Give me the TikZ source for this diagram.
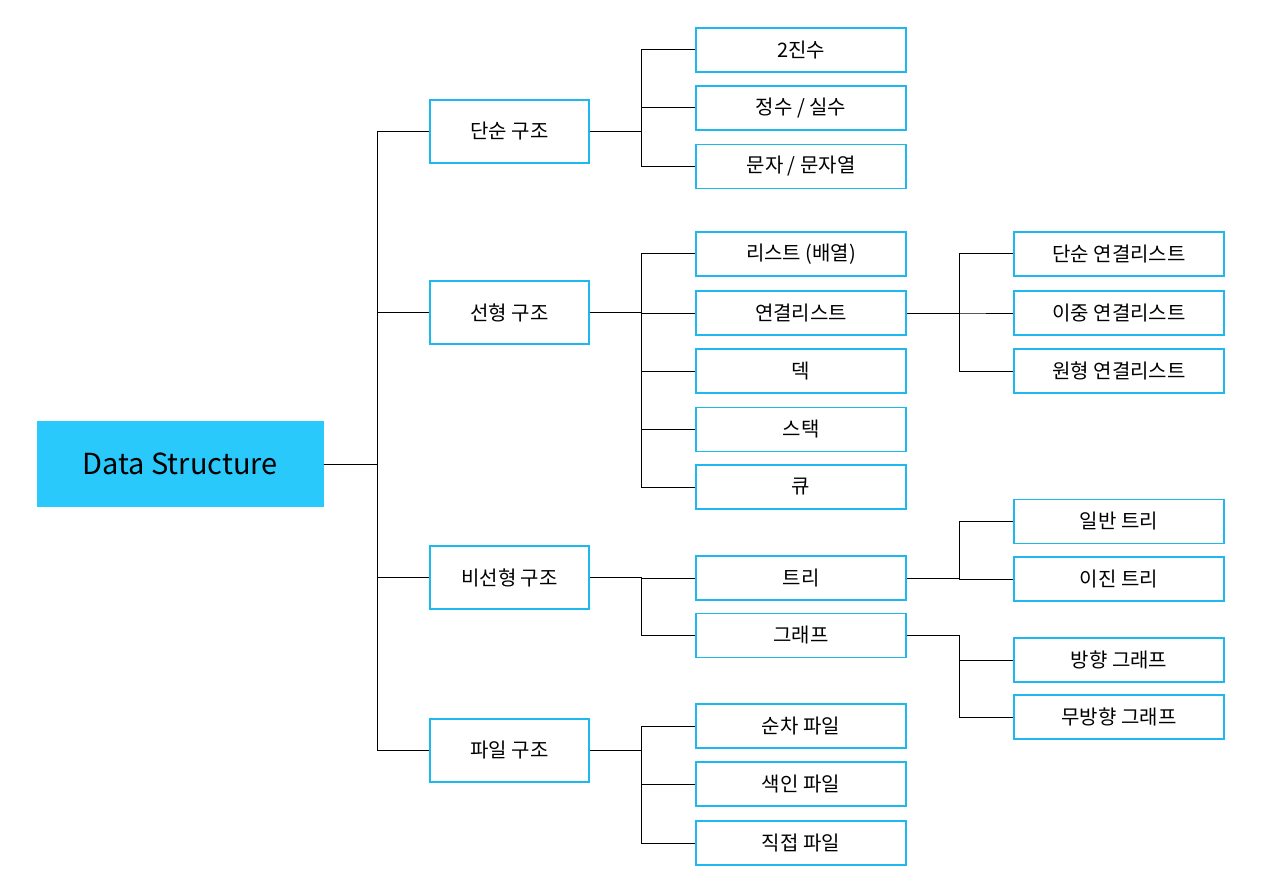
\documentclass[tikz,border=0pt]{standalone}
\usepackage{fontspec}
\setmainfont{Noto Sans CJK KR}
\definecolor{rootfill}{HTML}{29C9FB}
\definecolor{boxline}{HTML}{1DB9EE}
\begin{document}
\begin{tikzpicture}[x=1pt,y=-1pt,
  l1box/.style={draw=boxline,line width=1.8pt,minimum width=159pt,minimum height=63pt,inner sep=0pt,font=\fontsize{20}{24}\selectfont},
  l2box/.style={draw=boxline,line width=1.8pt,minimum width=210pt,minimum height=44pt,inner sep=0pt,font=\fontsize{20}{24}\selectfont},
  link/.style={draw=black,line width=1pt}]
\useasboundingbox (0,0) rectangle (1280,896);
\node[fill=rootfill,minimum width=287pt,minimum height=86pt,inner sep=0pt,font=\fontsize{29}{34}\selectfont] (root) at (180,464) {Data Structure};

\node[l1box] (s1) at (509.5,131.5) {단순 구조};
\node[l1box] (s2) at (509.5,312.5) {선형 구조};
\node[l1box] (s3) at (509.5,577.5) {비선형 구조};
\node[l1box] (s4) at (509.5,750.5) {파일 구조};

\node[l2box] (a1) at (801,50) {2진수};
\node[l2box] (a2) at (801,108) {정수 / 실수};
\node[l2box] (a3) at (801,166.5) {문자 / 문자열};
\node[l2box] (b1) at (801,254) {리스트 (배열)};
\node[l2box] (b2) at (801,313) {연결리스트};
\node[l2box] (b3) at (801,371) {덱};
\node[l2box] (b4) at (801,429.5) {스택};
\node[l2box] (b5) at (801,487) {큐};
\node[l2box] (c1) at (801,578) {트리};
\node[l2box] (c2) at (801,635.5) {그래프};
\node[l2box] (d1) at (801,726) {순차 파일};
\node[l2box] (d2) at (801,784) {색인 파일};
\node[l2box] (d3) at (801,843) {직접 파일};

\node[l2box] (e1) at (1119,254) {단순 연결리스트};
\node[l2box] (e2) at (1119,313) {이중 연결리스트};
\node[l2box] (e3) at (1119,371) {원형 연결리스트};
\node[l2box] (f1) at (1119,521.5) {일반 트리};
\node[l2box] (f2) at (1119,579) {이진 트리};
\node[l2box] (g1) at (1119,660) {방향 그래프};
\node[l2box] (g2) at (1119,717) {무방향 그래프};

\foreach \t in {s1,s2,s3,s4}
  \draw[link] (root.east) -- ++(54,0) |- (\t.west);
\foreach \t in {a1,a2,a3}
  \draw[link] (s1.east) -- ++(52,0) |- (\t.west);
\foreach \t in {b1,b2,b3,b4,b5}
  \draw[link] (s2.east) -- ++(52,0) |- (\t.west);
\foreach \t in {c1,c2}
  \draw[link] (s3.east) -- ++(52,0) |- (\t.west);
\foreach \t in {d1,d2,d3}
  \draw[link] (s4.east) -- ++(52,0) |- (\t.west);
\foreach \t in {e1,e2,e3}
  \draw[link] (b2.east) -- ++(53,0) |- (\t.west);
\foreach \t in {f1,f2}
  \draw[link] (c1.east) -- ++(53,0) |- (\t.west);
\foreach \t in {g1,g2}
  \draw[link] (c2.east) -- ++(53,0) |- (\t.west);
\end{tikzpicture}
\end{document}
